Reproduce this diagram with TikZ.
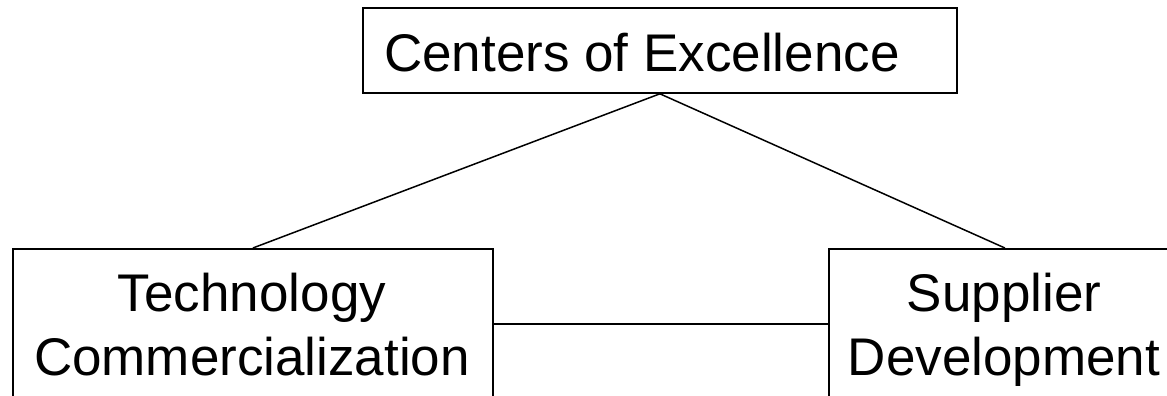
\documentclass[tikz,border=0pt]{standalone}
\usepackage{fontspec}
\setmainfont{Liberation Sans}
\begin{document}
\begin{tikzpicture}[x=1pt,y=-1pt,
  box/.style={draw=black, line width=1.8pt, rectangle, inner sep=0pt, fill=none},
  lbl/.style={inner sep=0pt, font=\fontsize{53}{64}\selectfont},
  link/.style={draw=black, line width=1.5pt}]
\clip (0,0) rectangle (1167,396);
\useasboundingbox (0,0) rectangle (1167,396);
% boxes
\node[box, minimum width=594pt, minimum height=85pt, anchor=north west] (coe) at (362,7) {};
\node[box, minimum width=480pt, minimum height=150pt, anchor=north west] (tc) at (12,248) {};
\node[box, minimum width=352pt, minimum height=150pt, anchor=north west] (sd) at (828,248) {};
% texts
\node[lbl, anchor=base west] (coetxt) at (384,71) {Centers of Excellence};
\node[lbl, anchor=base] (tc1) at (252,311) {Technology};
\node[lbl, anchor=base] (tc2) at (252,375) {Commercialization};
\node[lbl, anchor=base] (sd1) at (1004,311) {Supplier};
\node[lbl, anchor=base] (sd2) at (1004,375) {Development};
% connectors
\draw[link] (coe.south) -- (tc.north);
\draw[link] (coe.south) -- (sd.north);
\draw[link] (tc.east) -- (sd.west);
\end{tikzpicture}
\end{document}
